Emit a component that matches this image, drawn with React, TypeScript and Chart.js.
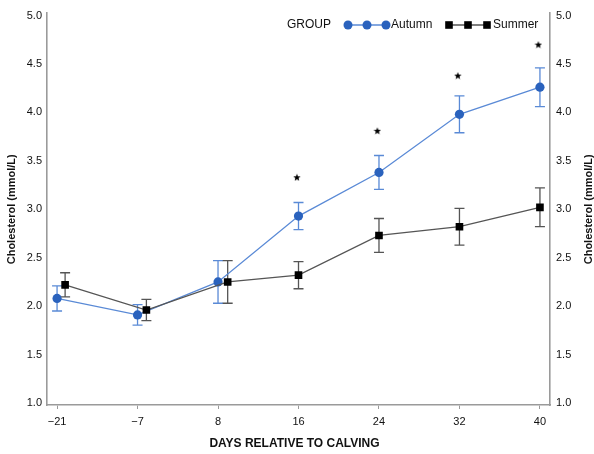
import React, { useEffect, useRef } from "react";
import { Chart, registerables } from "chart.js";

Chart.register(...registerables);

const dayLabels = ["\u221221", "\u22127", "8", "16", "24", "32", "40"];
const autumnMean = [2.08, 1.91, 2.25, 2.93, 3.38, 3.98, 4.26];
const autumnErr = [0.13, 0.105, 0.22, 0.14, 0.175, 0.19, 0.2];
const summerMean = [2.22, 1.96, 2.25, 2.32, 2.73, 2.82, 3.02];
const summerErr = [0.125, 0.11, 0.22, 0.14, 0.175, 0.19, 0.2];
const summerShift = [0.1, 0.11, 0.12, 0, 0, 0, 0];
const starValues = [null, null, null, 3.33, 3.81, 4.38, 4.7];

const yTicks = [1.0, 1.5, 2.0, 2.5, 3.0, 3.5, 4.0, 4.5, 5.0];

const FONT = "'Liberation Sans', Arial, sans-serif";
const BLUE_MARK = "#2a62bd";
const BLUE_LINE = "#5a8ad6";
const GREY_LINE = "#555555";
const AXIS = "#9a9a9a";
const TEXT = "#111111";

function makeStar(): HTMLCanvasElement {
  const c = document.createElement("canvas");
  c.width = 8;
  c.height = 8;
  const g = c.getContext("2d")!;
  g.fillStyle = "#000";
  g.beginPath();
  for (let i = 0; i < 10; i++) {
    const r = i % 2 === 0 ? 3.9 : 1.7;
    const a = -Math.PI / 2 + (i * Math.PI) / 5;
    const px = 4 + r * Math.cos(a);
    const py = 4.3 + r * Math.sin(a);
    if (i === 0) g.moveTo(px, py);
    else g.lineTo(px, py);
  }
  g.closePath();
  g.fill();
  return c;
}

const errorBarPlugin = {
  id: "errorBars",
  beforeDatasetsDraw(chart: any) {
    const ctx = chart.ctx;
    const yScale = chart.scales.y;
    const sets = [
      { idx: 1, mean: autumnMean, err: autumnErr, color: BLUE_LINE },
      { idx: 0, mean: summerMean, err: summerErr, color: GREY_LINE },
    ];
    ctx.save();
    ctx.lineWidth = 1.3;
    sets.forEach((s) => {
      const meta = chart.getDatasetMeta(s.idx);
      ctx.strokeStyle = s.color;
      meta.data.forEach((pt: any, j: number) => {
        const x = pt.x;
        const yTop = yScale.getPixelForValue(s.mean[j] + s.err[j]);
        const yBot = yScale.getPixelForValue(s.mean[j] - s.err[j]);
        const cap = 5;
        ctx.beginPath();
        ctx.moveTo(x, yTop);
        ctx.lineTo(x, yBot);
        ctx.moveTo(x - cap, yTop);
        ctx.lineTo(x + cap, yTop);
        ctx.moveTo(x - cap, yBot);
        ctx.lineTo(x + cap, yBot);
        ctx.stroke();
      });
    });
    ctx.restore();
  },
};

const decorPlugin = {
  id: "decor",
  afterDraw(chart: any) {
    const ctx = chart.ctx;
    const area = chart.chartArea;
    const yScale = chart.scales.y;
    const midY = (yScale.getPixelForValue(1.0) + yScale.getPixelForValue(5.0)) / 2;
    ctx.save();
    ctx.fillStyle = TEXT;
    ctx.font = `bold 11px ${FONT}`;
    ctx.textAlign = "center";
    ctx.textBaseline = "middle";
    ctx.save();
    ctx.translate(12, midY);
    ctx.rotate(-Math.PI / 2);
    ctx.fillText("Cholesterol (mmol/L)", 0, 0);
    ctx.restore();
    ctx.save();
    ctx.translate(589, midY);
    ctx.rotate(-Math.PI / 2);
    ctx.fillText("Cholesterol (mmol/L)", 0, 0);
    ctx.restore();
    ctx.font = `bold 12px ${FONT}`;
    ctx.fillText("DAYS RELATIVE TO CALVING", (area.left + area.right) / 2 - 4, 444);

    const ly = 25;
    ctx.textAlign = "left";
    ctx.font = `12px ${FONT}`;
    ctx.fillText("GROUP", 287, ly);
    ctx.strokeStyle = BLUE_LINE;
    ctx.lineWidth = 1.3;
    ctx.beginPath();
    ctx.moveTo(348, ly);
    ctx.lineTo(386, ly);
    ctx.stroke();
    ctx.fillStyle = BLUE_MARK;
    [348, 367, 386].forEach((x) => {
      ctx.beginPath();
      ctx.arc(x, ly, 4.5, 0, Math.PI * 2);
      ctx.fill();
    });
    ctx.fillStyle = TEXT;
    ctx.fillText("Autumn", 391, ly);
    ctx.strokeStyle = GREY_LINE;
    ctx.beginPath();
    ctx.moveTo(449, ly);
    ctx.lineTo(487, ly);
    ctx.stroke();
    ctx.fillStyle = "#000";
    [449, 468, 487].forEach((x) => {
      ctx.fillRect(x - 3.8, ly - 3.8, 7.6, 7.6);
    });
    ctx.fillStyle = TEXT;
    ctx.fillText("Summer", 493, ly);
    ctx.restore();
  },
};

export default function App() {
  const ref = useRef<HTMLCanvasElement | null>(null);

  useEffect(() => {
    document.body.style.margin = "0";
    const star = makeStar();
    const autumnPts = autumnMean.map((v, i) => ({ x: i, y: v }));
    const summerPts = summerMean.map((v, i) => ({ x: i + summerShift[i], y: v }));
    const starPts = starValues
      .map((v, i) => (v === null ? null : { x: i - 0.02, y: v }))
      .filter((p) => p !== null);

    const chart = new Chart(ref.current!, {
      type: "line",
      data: {
        datasets: [
          {
            label: "Summer",
            data: summerPts,
            borderColor: GREY_LINE,
            borderWidth: 1.3,
            backgroundColor: "#000",
            pointBackgroundColor: "#000",
            pointBorderColor: "#000",
            pointStyle: "rect",
            pointRadius: 5.4,
            pointBorderWidth: 0,
            yAxisID: "y",
          },
          {
            label: "Autumn",
            data: autumnPts,
            borderColor: BLUE_LINE,
            borderWidth: 1.3,
            backgroundColor: BLUE_MARK,
            pointBackgroundColor: BLUE_MARK,
            pointBorderColor: BLUE_MARK,
            pointStyle: "circle",
            pointRadius: 4.6,
            pointBorderWidth: 0,
            yAxisID: "y",
          },
          {
            label: "sig",
            data: starPts as any,
            showLine: false,
            pointStyle: star as any,
            pointRadius: 4,
            yAxisID: "y",
          },
        ],
      },
      options: {
        animation: false,
        responsive: true,
        maintainAspectRatio: false,
        layout: { padding: { top: 12, left: 0, right: 0, bottom: 0 } },
        plugins: {
          legend: { display: false },
          tooltip: { enabled: false },
        },
        scales: {
          x: {
            type: "linear",
            min: -0.125,
            max: 6.125,
            afterBuildTicks: (s: any) => {
              s.ticks = dayLabels.map((_, i) => ({ value: i }));
            },
            afterFit: (s: any) => {
              s.height = 49;
            },
            ticks: {
              callback: (v: any) => dayLabels[Math.round(v)] ?? "",
              color: TEXT,
              font: { family: FONT, size: 11 },
              padding: 6,
              maxRotation: 0,
              autoSkip: false,
            },
            grid: {
              display: true,
              drawOnChartArea: false,
              drawTicks: true,
              tickLength: 4,
              color: AXIS,
              lineWidth: 1,
            },
            border: { display: true, color: AXIS, width: 1.6 },
          },
          y: {
            type: "linear",
            position: "left",
            min: 0.98,
            max: 5.03,
            afterBuildTicks: (s: any) => {
              s.ticks = yTicks.map((v) => ({ value: v }));
            },
            afterFit: (s: any) => {
              s.width = 47;
            },
            ticks: {
              callback: (v: any) => Number(v).toFixed(1),
              color: TEXT,
              font: { family: FONT, size: 11 },
              padding: 5,
            },
            grid: { display: false, drawTicks: false },
            border: { display: true, color: AXIS, width: 1.6 },
          },
          y2: {
            type: "linear",
            position: "right",
            min: 0.98,
            max: 5.03,
            afterBuildTicks: (s: any) => {
              s.ticks = yTicks.map((v) => ({ value: v }));
            },
            afterFit: (s: any) => {
              s.width = 44;
            },
            ticks: {
              callback: (v: any) => Number(v).toFixed(1),
              color: TEXT,
              font: { family: FONT, size: 11 },
              padding: 6,
            },
            grid: { display: false, drawTicks: false },
            border: { display: true, color: AXIS, width: 1.6 },
          },
        },
      },
      plugins: [errorBarPlugin, decorPlugin],
    });
    return () => chart.destroy();
  }, []);

  return (
    <div style={{ position: "fixed", left: 0, top: 0, width: 594, height: 454, background: "#fff" }}>
      <canvas ref={ref} />
    </div>
  );
}
